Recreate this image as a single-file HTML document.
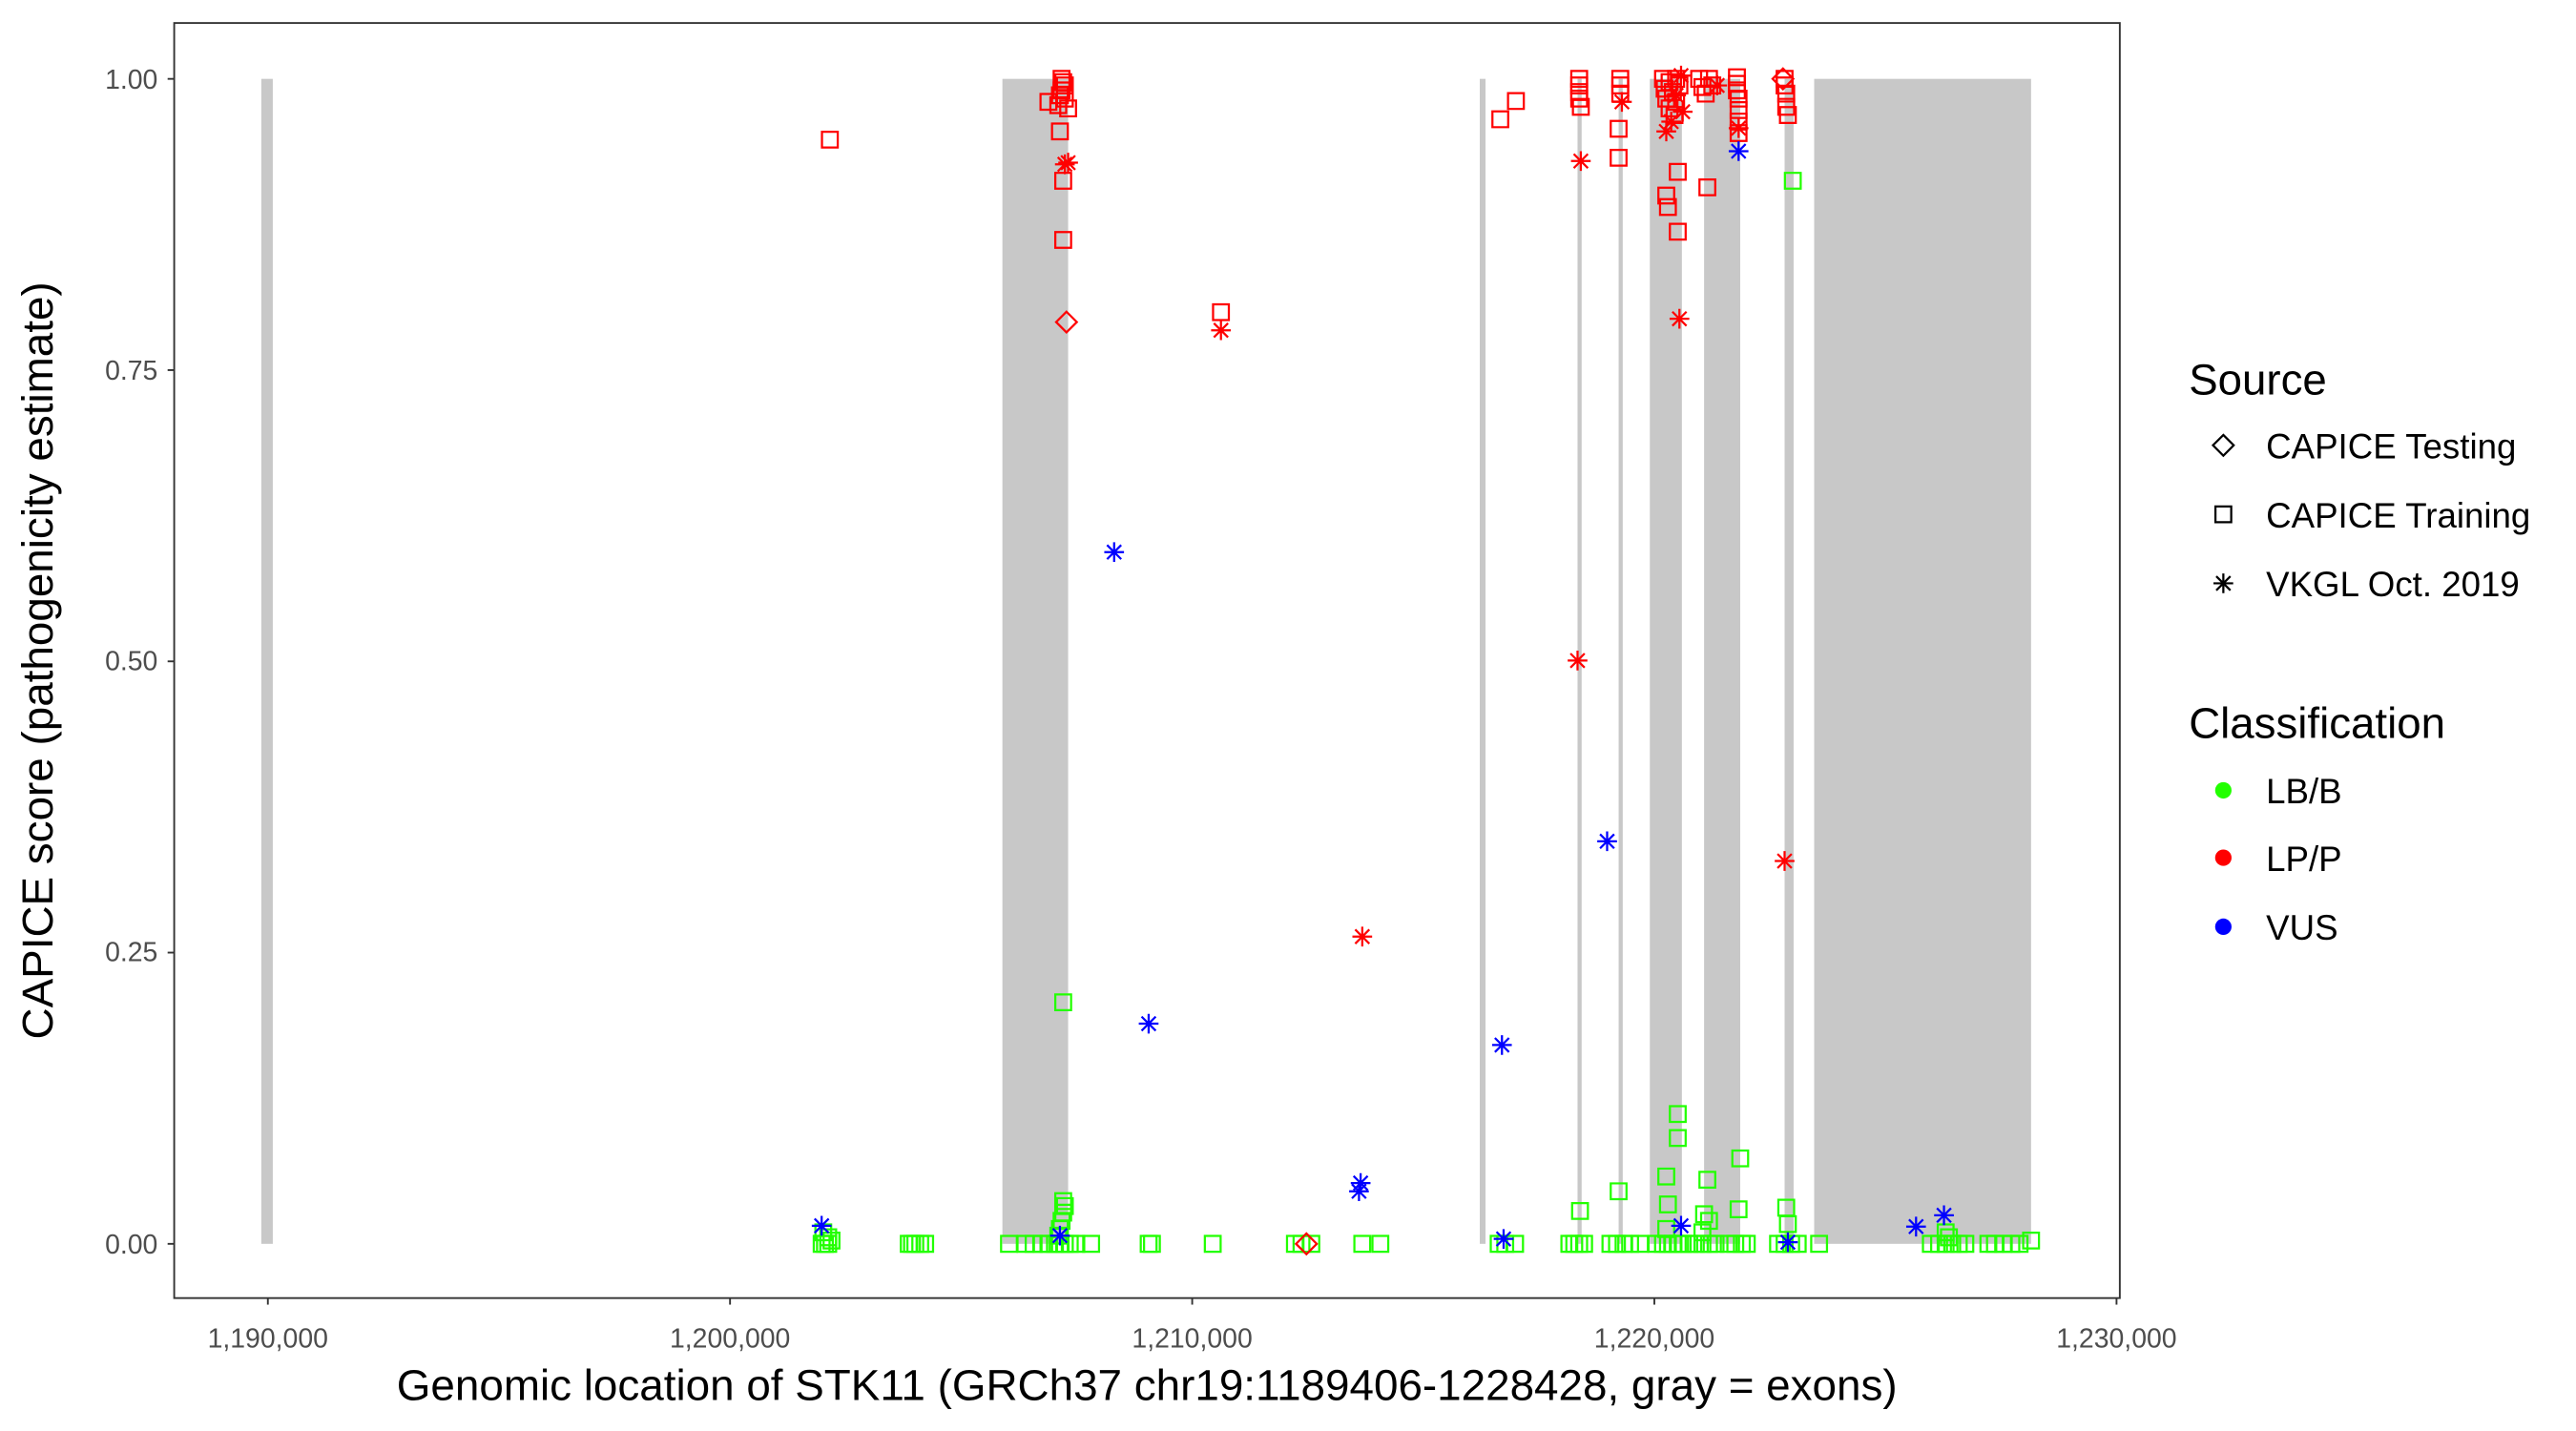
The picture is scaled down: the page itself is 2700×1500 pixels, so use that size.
<!DOCTYPE html>
<html><head><meta charset="utf-8"><style>
html,body{margin:0;padding:0;background:#fff}
svg{display:block}
text{font-family:"Liberation Sans",Arial,sans-serif}
.g{stroke:#22ff00}.r{stroke:#ff0000}.b{stroke:#0000ff}.k{stroke:#000}
use{fill:none;stroke-width:1.3}
</style></head><body>
<svg width="2700" height="1500" viewBox="0 0 1567.6 870.9" xmlns="http://www.w3.org/2000/svg">
<defs>
<path id="sq" d="M-4.8,-4.8h9.6v9.6h-9.6z"/>
<path id="as" d="M0,-6V6M-6,0H6M-4.3,-4.3L4.3,4.3M-4.3,4.3L4.3,-4.3"/>
<path id="dm" d="M0,-6.3L6.3,0L0,6.3L-6.3,0z"/>
</defs>
<rect x="0" y="0" width="1567.6" height="870.9" fill="#fff"/>
<g fill="#c8c8c8">
<rect x="159" y="48" width="7" height="709"/>
<rect x="610" y="48" width="40" height="709"/>
<rect x="900.5" y="48" width="3.5" height="709"/>
<rect x="960" y="48" width="2.5" height="709"/>
<rect x="985" y="48" width="2.5" height="709"/>
<rect x="1004" y="48" width="19.5" height="709"/>
<rect x="1037" y="48" width="22" height="709"/>
<rect x="1086" y="48" width="5.5" height="709"/>
<rect x="1104" y="48" width="132" height="709"/>
</g>
<g class="g">
<use href="#sq" x="500" y="757"/><use href="#sq" x="502" y="757"/><use href="#sq" x="504" y="757"/><use href="#sq" x="506" y="755"/>
<use href="#sq" x="501" y="750"/><use href="#sq" x="504" y="753"/>
<use href="#sq" x="553" y="757"/><use href="#sq" x="555" y="757"/><use href="#sq" x="557" y="757"/><use href="#sq" x="560" y="757"/><use href="#sq" x="563" y="757"/>
<use href="#sq" x="614" y="757"/><use href="#sq" x="624" y="757"/><use href="#sq" x="629" y="757"/><use href="#sq" x="634" y="757"/><use href="#sq" x="638" y="757"/><use href="#sq" x="642" y="757"/><use href="#sq" x="645" y="757"/><use href="#sq" x="648" y="757"/><use href="#sq" x="651" y="757"/><use href="#sq" x="655" y="757"/><use href="#sq" x="664" y="757"/>
<use href="#sq" x="645" y="748"/><use href="#sq" x="646" y="743"/><use href="#sq" x="647" y="738"/><use href="#sq" x="648" y="734"/><use href="#sq" x="647" y="731"/><use href="#sq" x="644" y="752"/>
<use href="#sq" x="647" y="610"/>
<use href="#sq" x="699" y="757"/><use href="#sq" x="701" y="757"/><use href="#sq" x="738" y="757"/>
<use href="#sq" x="788" y="757"/><use href="#sq" x="792" y="757"/><use href="#sq" x="798" y="757"/>
<use href="#sq" x="829" y="757"/><use href="#sq" x="840" y="757"/>
<use href="#sq" x="912" y="757"/><use href="#sq" x="916" y="757"/><use href="#sq" x="922" y="757"/>
<use href="#sq" x="955" y="757"/><use href="#sq" x="958" y="757"/><use href="#sq" x="961" y="757"/><use href="#sq" x="964" y="757"/>
<use href="#sq" x="980" y="757"/><use href="#sq" x="984" y="757"/><use href="#sq" x="988" y="757"/><use href="#sq" x="992" y="757"/><use href="#sq" x="998" y="757"/>
<use href="#sq" x="1008" y="757"/><use href="#sq" x="1012" y="757"/><use href="#sq" x="1015" y="757"/><use href="#sq" x="1018" y="757"/><use href="#sq" x="1021" y="757"/><use href="#sq" x="1024" y="757"/><use href="#sq" x="1028" y="757"/><use href="#sq" x="1032" y="757"/><use href="#sq" x="1036" y="757"/><use href="#sq" x="1040" y="757"/><use href="#sq" x="1044" y="757"/>
<use href="#sq" x="1052" y="757"/><use href="#sq" x="1056" y="757"/><use href="#sq" x="1060" y="757"/><use href="#sq" x="1063" y="757"/>
<use href="#sq" x="1082" y="757"/><use href="#sq" x="1086" y="757"/><use href="#sq" x="1090" y="757"/><use href="#sq" x="1094" y="757"/><use href="#sq" x="1107" y="757"/>
<use href="#sq" x="1175" y="757"/><use href="#sq" x="1180" y="757"/><use href="#sq" x="1184" y="757"/><use href="#sq" x="1188" y="757"/><use href="#sq" x="1192" y="757"/><use href="#sq" x="1196" y="757"/><use href="#sq" x="1184" y="750"/><use href="#sq" x="1186" y="753"/>
<use href="#sq" x="1210" y="757"/><use href="#sq" x="1214" y="757"/><use href="#sq" x="1219" y="757"/><use href="#sq" x="1224" y="757"/><use href="#sq" x="1229" y="757"/><use href="#sq" x="1236" y="755"/>
<use href="#sq" x="1021" y="678"/><use href="#sq" x="1021" y="692.6"/><use href="#sq" x="1059" y="705"/><use href="#sq" x="1014" y="716"/><use href="#sq" x="1039" y="718"/><use href="#sq" x="985" y="725"/><use href="#sq" x="961.5" y="737"/><use href="#sq" x="1015" y="733"/><use href="#sq" x="1058" y="736"/><use href="#sq" x="1087" y="735"/><use href="#sq" x="1037" y="739"/><use href="#sq" x="1088" y="745"/><use href="#sq" x="1040" y="743"/><use href="#sq" x="1014" y="748"/><use href="#sq" x="1036" y="750"/>
<use href="#sq" x="1091" y="110"/>
</g>
<g class="r">
<use href="#sq" x="505" y="85"/>
<use href="#sq" x="646" y="48"/><use href="#sq" x="647" y="50"/><use href="#sq" x="648" y="52"/><use href="#sq" x="646" y="55"/><use href="#sq" x="645" y="58"/><use href="#sq" x="648" y="60"/>
<use href="#sq" x="638" y="62"/><use href="#sq" x="644" y="64"/><use href="#sq" x="650" y="66"/><use href="#sq" x="645" y="80"/><use href="#sq" x="647" y="110"/><use href="#sq" x="647" y="146"/>
<use href="#as" x="650" y="99"/><use href="#as" x="648" y="100"/>
<use href="#dm" x="649" y="196"/>
<use href="#sq" x="743" y="190"/><use href="#as" x="743" y="201"/>
<use href="#dm" x="795" y="757"/>
<use href="#as" x="829" y="570"/><use href="#as" x="960" y="402"/><use href="#as" x="1086" y="524"/><use href="#as" x="1022" y="194"/>
<use href="#sq" x="913" y="72.6"/><use href="#sq" x="922.5" y="61.5"/>
<use href="#sq" x="961" y="48"/><use href="#sq" x="961" y="52"/><use href="#sq" x="961" y="56"/><use href="#sq" x="961" y="60"/><use href="#sq" x="962" y="65"/>
<use href="#as" x="962" y="98"/>
<use href="#sq" x="986" y="48"/><use href="#sq" x="986" y="52"/><use href="#sq" x="986" y="57"/><use href="#as" x="987" y="62"/><use href="#sq" x="985" y="78.4"/><use href="#sq" x="985" y="96"/>
<use href="#sq" x="1012" y="48"/><use href="#sq" x="1016" y="50"/><use href="#sq" x="1020" y="48"/><use href="#sq" x="1013" y="54"/><use href="#sq" x="1018" y="56"/><use href="#sq" x="1022" y="52"/><use href="#sq" x="1014" y="60"/><use href="#sq" x="1020" y="62"/><use href="#sq" x="1016" y="66"/><use href="#sq" x="1019" y="70"/>
<use href="#as" x="1023" y="46"/><use href="#as" x="1020" y="58"/><use href="#as" x="1024" y="68"/><use href="#as" x="1014" y="80"/><use href="#as" x="1017" y="74"/>
<use href="#sq" x="1021" y="104.6"/><use href="#sq" x="1014" y="119"/><use href="#sq" x="1015" y="126"/><use href="#sq" x="1021" y="141"/><use href="#sq" x="1039" y="114"/>
<use href="#sq" x="1034" y="48"/><use href="#sq" x="1040" y="48"/><use href="#sq" x="1036" y="53"/><use href="#sq" x="1042" y="52"/><use href="#sq" x="1038" y="57"/><use href="#as" x="1045" y="52"/>
<use href="#sq" x="1057" y="47"/><use href="#sq" x="1057" y="51"/><use href="#sq" x="1057" y="55"/><use href="#sq" x="1058" y="60"/><use href="#sq" x="1058" y="67"/><use href="#sq" x="1058" y="74"/><use href="#sq" x="1058" y="81"/><use href="#as" x="1058" y="78"/>
<use href="#sq" x="1086" y="48"/><use href="#sq" x="1086" y="52"/><use href="#sq" x="1087" y="57"/><use href="#sq" x="1087" y="65"/><use href="#sq" x="1088" y="70"/><use href="#dm" x="1085" y="48"/>
</g>
<g class="b">
<use href="#as" x="678" y="336"/><use href="#as" x="699" y="623"/><use href="#as" x="914" y="636"/><use href="#as" x="978" y="512"/><use href="#as" x="1058" y="92"/>
<use href="#as" x="500" y="746"/><use href="#as" x="645" y="752"/><use href="#as" x="828" y="720"/><use href="#as" x="827" y="725"/>
<use href="#as" x="1023" y="746"/><use href="#as" x="1088" y="756"/><use href="#as" x="915" y="754"/><use href="#as" x="1166" y="746.5"/><use href="#as" x="1183" y="739.6"/>
</g>
<rect x="106" y="14" width="1184" height="776" fill="none" stroke="#333" stroke-width="1.1"/>
<g stroke="#333" stroke-width="1.1">
<line x1="102" y1="48" x2="106" y2="48"/><line x1="102" y1="225.25" x2="106" y2="225.25"/><line x1="102" y1="402.5" x2="106" y2="402.5"/><line x1="102" y1="579.75" x2="106" y2="579.75"/><line x1="102" y1="757" x2="106" y2="757"/>
<line x1="163" y1="790" x2="163" y2="794"/><line x1="444.25" y1="790" x2="444.25" y2="794"/><line x1="725.5" y1="790" x2="725.5" y2="794"/><line x1="1006.75" y1="790" x2="1006.75" y2="794"/><line x1="1288" y1="790" x2="1288" y2="794"/>
</g>
<g fill="#4d4d4d" font-size="16.5">
<g text-anchor="end">
<text x="96" y="54">1.00</text><text x="96" y="231">0.75</text><text x="96" y="408">0.50</text><text x="96" y="585">0.25</text><text x="96" y="763">0.00</text>
</g>
<g text-anchor="middle">
<text x="163" y="820">1,190,000</text><text x="444.25" y="820">1,200,000</text><text x="725.5" y="820">1,210,000</text><text x="1006.75" y="820">1,220,000</text><text x="1288" y="820">1,230,000</text>
</g>
</g>
<text x="698" y="852" text-anchor="middle" font-size="26.6" fill="#000">Genomic location of STK11 (GRCh37 chr19:1189406-1228428, gray = exons)</text>
<text transform="translate(32,402) rotate(-90)" text-anchor="middle" font-size="26.6" fill="#000">CAPICE score (pathogenicity estimate)</text>
<text x="1332" y="240" font-size="26.5" fill="#000">Source</text>
<g class="k"><use href="#dm" x="1353" y="271"/><use href="#sq" x="1353" y="313"/><use href="#as" x="1353" y="355"/></g>
<g font-size="21.3" fill="#000">
<text x="1379" y="279">CAPICE Testing</text><text x="1379" y="321">CAPICE Training</text><text x="1379" y="363">VKGL Oct. 2019</text>
</g>
<text x="1332" y="449" font-size="26.5" fill="#000">Classification</text>
<circle cx="1353" cy="481" r="5" fill="#22ff00"/><circle cx="1353" cy="522" r="5" fill="#ff0000"/><circle cx="1353" cy="564" r="5" fill="#0000ff"/>
<g font-size="21.3" fill="#000">
<text x="1379" y="489">LB/B</text><text x="1379" y="530">LP/P</text><text x="1379" y="572">VUS</text>
</g>
</svg>
</body></html>
